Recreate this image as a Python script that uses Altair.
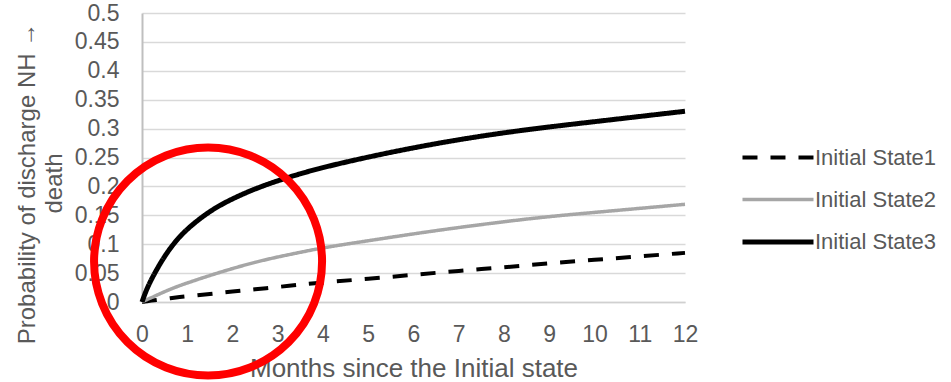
import altair as alt
import pandas as pd

# Months since the initial state and the estimated probability for each state
months = [0, 0.1, 0.25, 0.5, 0.75, 1, 1.5, 2, 2.5, 3, 3.5, 4, 5, 6, 7, 8, 9, 10, 11, 12]
state1 = [0, 0.001, 0.003, 0.005, 0.008, 0.010, 0.014, 0.018, 0.022, 0.026, 0.030, 0.034,
          0.040, 0.047, 0.054, 0.060, 0.067, 0.073, 0.079, 0.085]
state2 = [0, 0.004, 0.009, 0.018, 0.026, 0.033, 0.046, 0.058, 0.069, 0.078, 0.086, 0.094,
          0.106, 0.118, 0.129, 0.139, 0.148, 0.155, 0.162, 0.169]
state3 = [0, 0.022, 0.046, 0.080, 0.106, 0.127, 0.158, 0.179, 0.196, 0.210, 0.222, 0.233,
          0.251, 0.267, 0.281, 0.293, 0.303, 0.312, 0.321, 0.330]
series_names = ["Initial State1", "Initial State2", "Initial State3"]

# Highlight ring around the early months
ring_month = [1.46]
ring_prob = [0.07]

rows = []
for name, vals in zip(series_names, [state1, state2, state3]):
    for m, v in zip(months, vals):
        rows.append({"series": name, "month": m, "prob": v})
df = pd.DataFrame(rows)
ring_df = pd.DataFrame({"month": ring_month, "prob": ring_prob})

FONT = "Liberation Sans"
TXT = "#595959"

x_scale = alt.Scale(domain=[0, 12], nice=False)
y_scale = alt.Scale(domain=[0, 0.5], nice=False)

x_axis = alt.Axis(values=list(range(13)), title="Months since the Initial state",
                  grid=False, ticks=False, labelPadding=21, labelOverlap=False,
                  labelFlush=False, domainColor="#d0d0d0", domainWidth=1.5,
                  titleBaseline="alphabetic", titleY=74, titleFontSize=26)
y_axis = alt.Axis(values=[round(i * 0.05, 2) for i in range(11)], format="~g",
                  title=["Probability of discharge NH \u2192", "death"],
                  ticks=False, labelPadding=23, labelBaseline="middle",
                  labelOverlap=False, labelFlush=False,
                  domainColor="#bfbfbf", domainWidth=2,
                  gridColor="#d9d9d9", gridWidth=1.5,
                  titleX=-108, titleY=170, titleAlign="center",
                  titleBaseline="alphabetic", titleLineHeight=27,
                  titleFontSize=24)

# Long horizontal legend swatch: a wide path on a small symbol size keeps rows compact
swatch = "M-2.5,0H2.5"

lines = alt.Chart(df).mark_line(interpolate="basis", strokeCap="butt").encode(
    x=alt.X("month:Q", scale=x_scale, axis=x_axis),
    y=alt.Y("prob:Q", scale=y_scale, axis=y_axis),
    color=alt.Color("series:N", scale=alt.Scale(domain=series_names,
                                                range=["#000000", "#a6a6a6", "#000000"]),
                    legend=alt.Legend(title=None, orient="none", legendX=619, legendY=128,
                                      symbolType=swatch, symbolSize=807,
                                      labelFontSize=22, labelColor=TXT, labelFont=FONT,
                                      rowPadding=14.5, labelOffset=20)),
    strokeDash=alt.StrokeDash("series:N", scale=alt.Scale(domain=series_names,
                                                          range=[[15, 13], [1, 0], [1, 0]]),
                              legend=None),
    strokeWidth=alt.StrokeWidth("series:N",
                                scale=alt.Scale(type="ordinal", domain=series_names,
                                                range=[4, 3.5, 5]),
                                legend=None),
)

ring = alt.Chart(ring_df).mark_point(shape="circle", filled=False, color="#ff0000",
                                     strokeWidth=8, size=51984, opacity=1).encode(
    x=alt.X("month:Q", scale=x_scale, axis=x_axis),
    y=alt.Y("prob:Q", scale=y_scale, axis=y_axis),
)

chart = alt.layer(lines, ring).properties(
    width=543, height=289,
    padding={"left": 142, "top": 13, "right": 266, "bottom": 80},
    autosize="none",
).configure_view(stroke=None).configure_axis(
    labelFont=FONT, titleFont=FONT, labelColor=TXT, titleColor=TXT,
    labelFontSize=23, titleFontWeight="normal",
)

chart.save("out.html", embed_options={"renderer": "svg", "actions": False})
